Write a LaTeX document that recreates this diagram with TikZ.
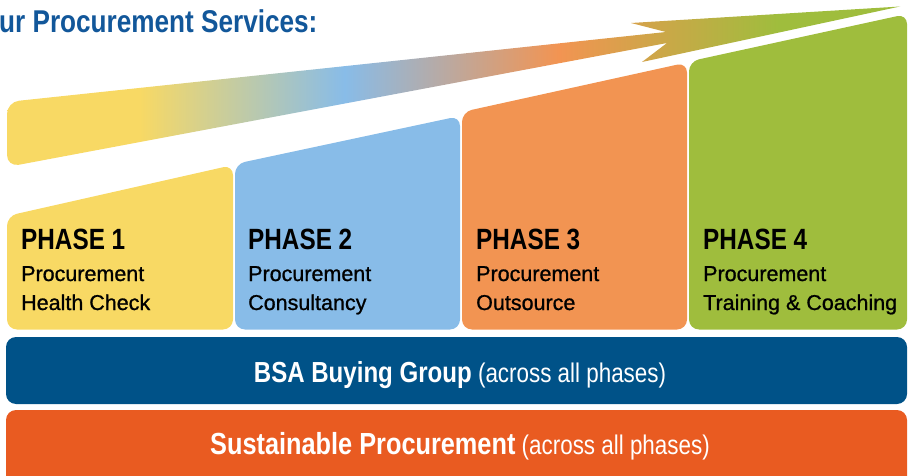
\documentclass[tikz,border=0pt]{standalone}
\usepackage{fontspec}
\setmainfont{Liberation Sans}
\newfontfamily\cnfont{Liberation Sans}[FakeStretch=0.83]
\newfontfamily\subfont{Liberation Sans}[FakeBold=0.9]
\definecolor{pyel}{HTML}{F8D964}
\definecolor{pblue}{HTML}{88BCE8}
\definecolor{porange}{HTML}{F29452}
\definecolor{pgreen}{HTML}{9FBD3D}
\definecolor{pnavy}{HTML}{005288}
\definecolor{pred}{HTML}{E95B21}
\definecolor{titleblue}{HTML}{12579A}
\pgfdeclarehorizontalshading{arrowgrad}{100bp}{color(0bp)=(pyel); color(32.4bp)=(pyel); color(43.9bp)=(pblue); color(55.9bp)=(porange); color(68.2bp)=(pgreen); color(100bp)=(pgreen)}
\begin{document}
\begin{tikzpicture}[x=1pt,y=-1pt,
  phasebox/.style={rounded corners=10pt},
  bar/.style={rounded corners=10pt},
  phasetitle/.style={anchor=base west, inner sep=0pt, text=black, font=\cnfont\bfseries\fontsize{29.3}{30}\selectfont},
  phasesub/.style={anchor=base west, inner sep=0pt, text=black, font=\subfont\fontsize{21.5}{22}\selectfont},
  bartext/.style={anchor=base, inner sep=0pt, text=white, font=\cnfont\fontsize{27}{28}\selectfont}]
\useasboundingbox (0,0) rectangle (908,476);
\clip (0,0) rectangle (908,476);

% title
\node[anchor=base west, inner sep=0pt, text=titleblue, font=\cnfont\bfseries\fontsize{31.5}{33}\selectfont] (title) at (-1,33) {ur Procurement Services:};

% gradient arrow
\shade[shading=arrowgrad] (7,140) [rounded corners=12pt] -- (7,102) -- (300,70.9) [sharp corners] -- (666,32) -- (631,23) -- (900,6.5) -- (642,62) -- (667,43) -- (300,111.95) [rounded corners=12pt] -- (7,167) -- cycle;

% phase boxes
\fill[pyel, phasebox] (7,329.5) -- (7,216) -- (233,165) -- (233,329.5) -- cycle;
\fill[pblue, phasebox] (235,329.5) -- (235,164) -- (460,116) -- (460,329.5) -- cycle;
\fill[porange, phasebox] (462,329.5) -- (462,112) -- (687,62.5) -- (687,329.5) -- cycle;
\fill[pgreen, phasebox] (689,329.5) -- (689,61.5) -- (907,14) -- (907,329.5) -- cycle;

% phase texts
\node[phasetitle] (t1) at (21,249.5) {PHASE 1};
\node[phasesub] (s1a) at (21,281) {Procurement};
\node[phasesub] (s1b) at (21,310) {Health Check};
\node[phasetitle] (t2) at (248,249.5) {PHASE 2};
\node[phasesub] (s2a) at (248,281) {Procurement};
\node[phasesub] (s2b) at (248,310) {Consultancy};
\node[phasetitle] (t3) at (476,249.5) {PHASE 3};
\node[phasesub] (s3a) at (476,281) {Procurement};
\node[phasesub] (s3b) at (476,310) {Outsource};
\node[phasetitle] (t4) at (703,249.5) {PHASE 4};
\node[phasesub] (s4a) at (703,281) {Procurement};
\node[phasesub] (s4b) at (703,310) {Training \& Coaching};

% bars
\fill[pnavy, bar] (6,337) rectangle (907,404);
\fill[pred, bar] (6,410) rectangle (907,490);
\node[bartext] (bsa) at (460,382.5) {{\bfseries\fontsize{29}{30}\selectfont BSA Buying Group} (across all phases)};
\node[bartext] (sus) at (460,454) {{\bfseries\fontsize{30.5}{31}\selectfont Sustainable Procurement} (across all phases)};
\end{tikzpicture}
\end{document}
